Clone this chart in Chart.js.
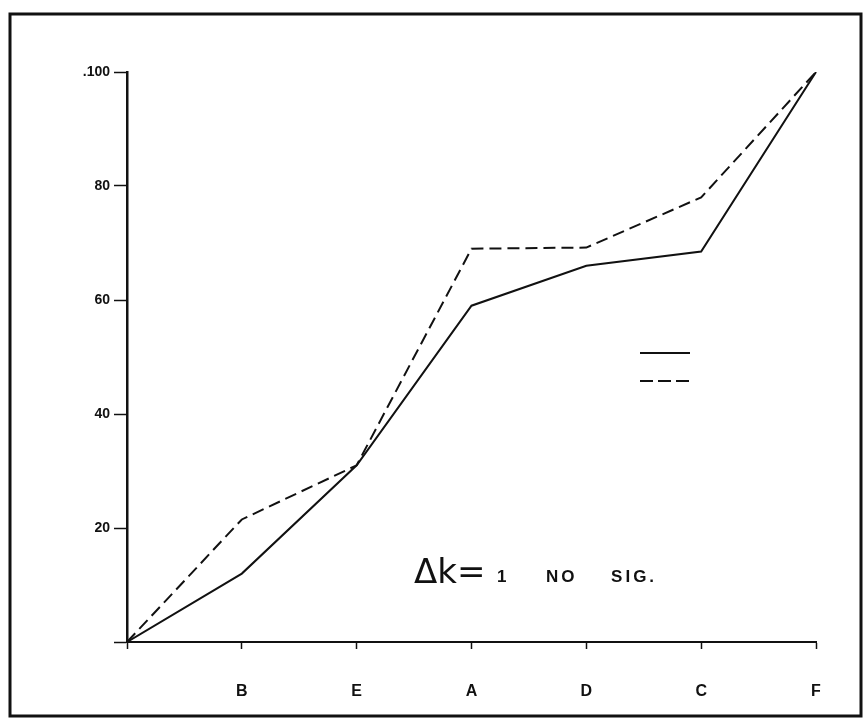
<!DOCTYPE html>
<html>
<head>
<meta charset="utf-8">
<script src="https://cdn.jsdelivr.net/npm/chart.js@4"></script>
<style>
  html, body { margin: 0; padding: 0; background: #fff; }
  #wrap { width: 865px; height: 723px; }
</style>
</head>
<body>
<div id="wrap"><canvas id="chart" width="865" height="723"></canvas></div>
<script>
const categories = ['', 'B', 'E', 'A', 'D', 'C', 'F'];
const solidValues = [0, 12, 31, 59, 66, 68.5, 100];
const dashedValues = [0, 21.5, 31, 69, 69.2, 78, 100];
const yTicks = [0, 20, 40, 60, 80, 100];
const yTickLabels = ['', '20', '40', '60', '80', '.100'];
const noteMain = 'Δk=';
const noteWords = ['1', 'NO', 'SIG.'];

// frame around the whole figure, legend samples and the note
const decorations = {
  id: 'decorations',
  afterDraw(chart) {
    const ctx = chart.ctx;
    const x = chart.scales.x, y = chart.scales.y;
    ctx.save();
    ctx.strokeStyle = '#111';
    ctx.lineWidth = 3;
    ctx.strokeRect(10, 14, 851, 702);

    // legend samples (no text in the original)
    ctx.lineWidth = 2;
    ctx.beginPath();
    ctx.moveTo(640, 353); ctx.lineTo(690, 353);
    ctx.stroke();
    ctx.setLineDash([13, 5]);
    ctx.beginPath();
    ctx.moveTo(640, 381); ctx.lineTo(690, 381);
    ctx.stroke();
    ctx.setLineDash([]);

    // note
    const nx = x.getPixelForValue(2.5);
    const ny = y.getPixelForValue(10.3);
    ctx.fillStyle = '#111';
    ctx.textBaseline = 'alphabetic';
    ctx.font = '34px "DejaVu Sans"';
    ctx.fillText(noteMain, nx, ny);
    ctx.font = 'bold 17px "Liberation Sans"';
    ctx.letterSpacing = '3px';
    const offs = [83, 132, 197];
    noteWords.forEach((wd, i) => ctx.fillText(wd, nx + offs[i], ny - 1));
    ctx.restore();
  }
};

new Chart(document.getElementById('chart'), {
  type: 'line',
  data: {
    labels: categories,
    datasets: [
      {
        data: solidValues,
        borderColor: '#111',
        borderWidth: 2,
        pointRadius: 0,
        tension: 0,
        fill: false
      },
      {
        data: dashedValues,
        borderColor: '#111',
        borderWidth: 2,
        borderDash: [12, 6],
        pointRadius: 0,
        tension: 0,
        fill: false
      }
    ]
  },
  options: {
    responsive: false,
    animation: false,
    layout: { padding: { top: 72, right: 49, bottom: 0, left: 0 } },
    plugins: { legend: { display: false }, tooltip: { enabled: false } },
    scales: {
      x: {
        offset: false,
        border: { color: '#111', width: 2 },
        grid: { drawOnChartArea: false, tickLength: 7, color: '#111', tickWidth: 1.5 },
        ticks: { color: '#111', font: { family: 'Liberation Sans', size: 16, weight: 'bold' }, padding: 33, maxRotation: 0 },
        afterFit(scale) { scale.height = 81; }
      },
      y: {
        min: 0,
        max: 100,
        border: { color: '#111', width: 2.5 },
        grid: { drawOnChartArea: false, tickLength: 13, color: '#111', tickWidth: 1.5 },
        afterBuildTicks(scale) { scale.ticks = yTicks.map(v => ({ value: v })); },
        ticks: {
          color: '#111',
          font: { family: 'Liberation Sans', size: 14, weight: 'bold' },
          padding: 4,
          callback: (v) => yTickLabels[yTicks.indexOf(v)]
        },
        afterFit(scale) { scale.width = 127; }
      }
    }
  },
  plugins: [decorations]
});
</script>
</body>
</html>
